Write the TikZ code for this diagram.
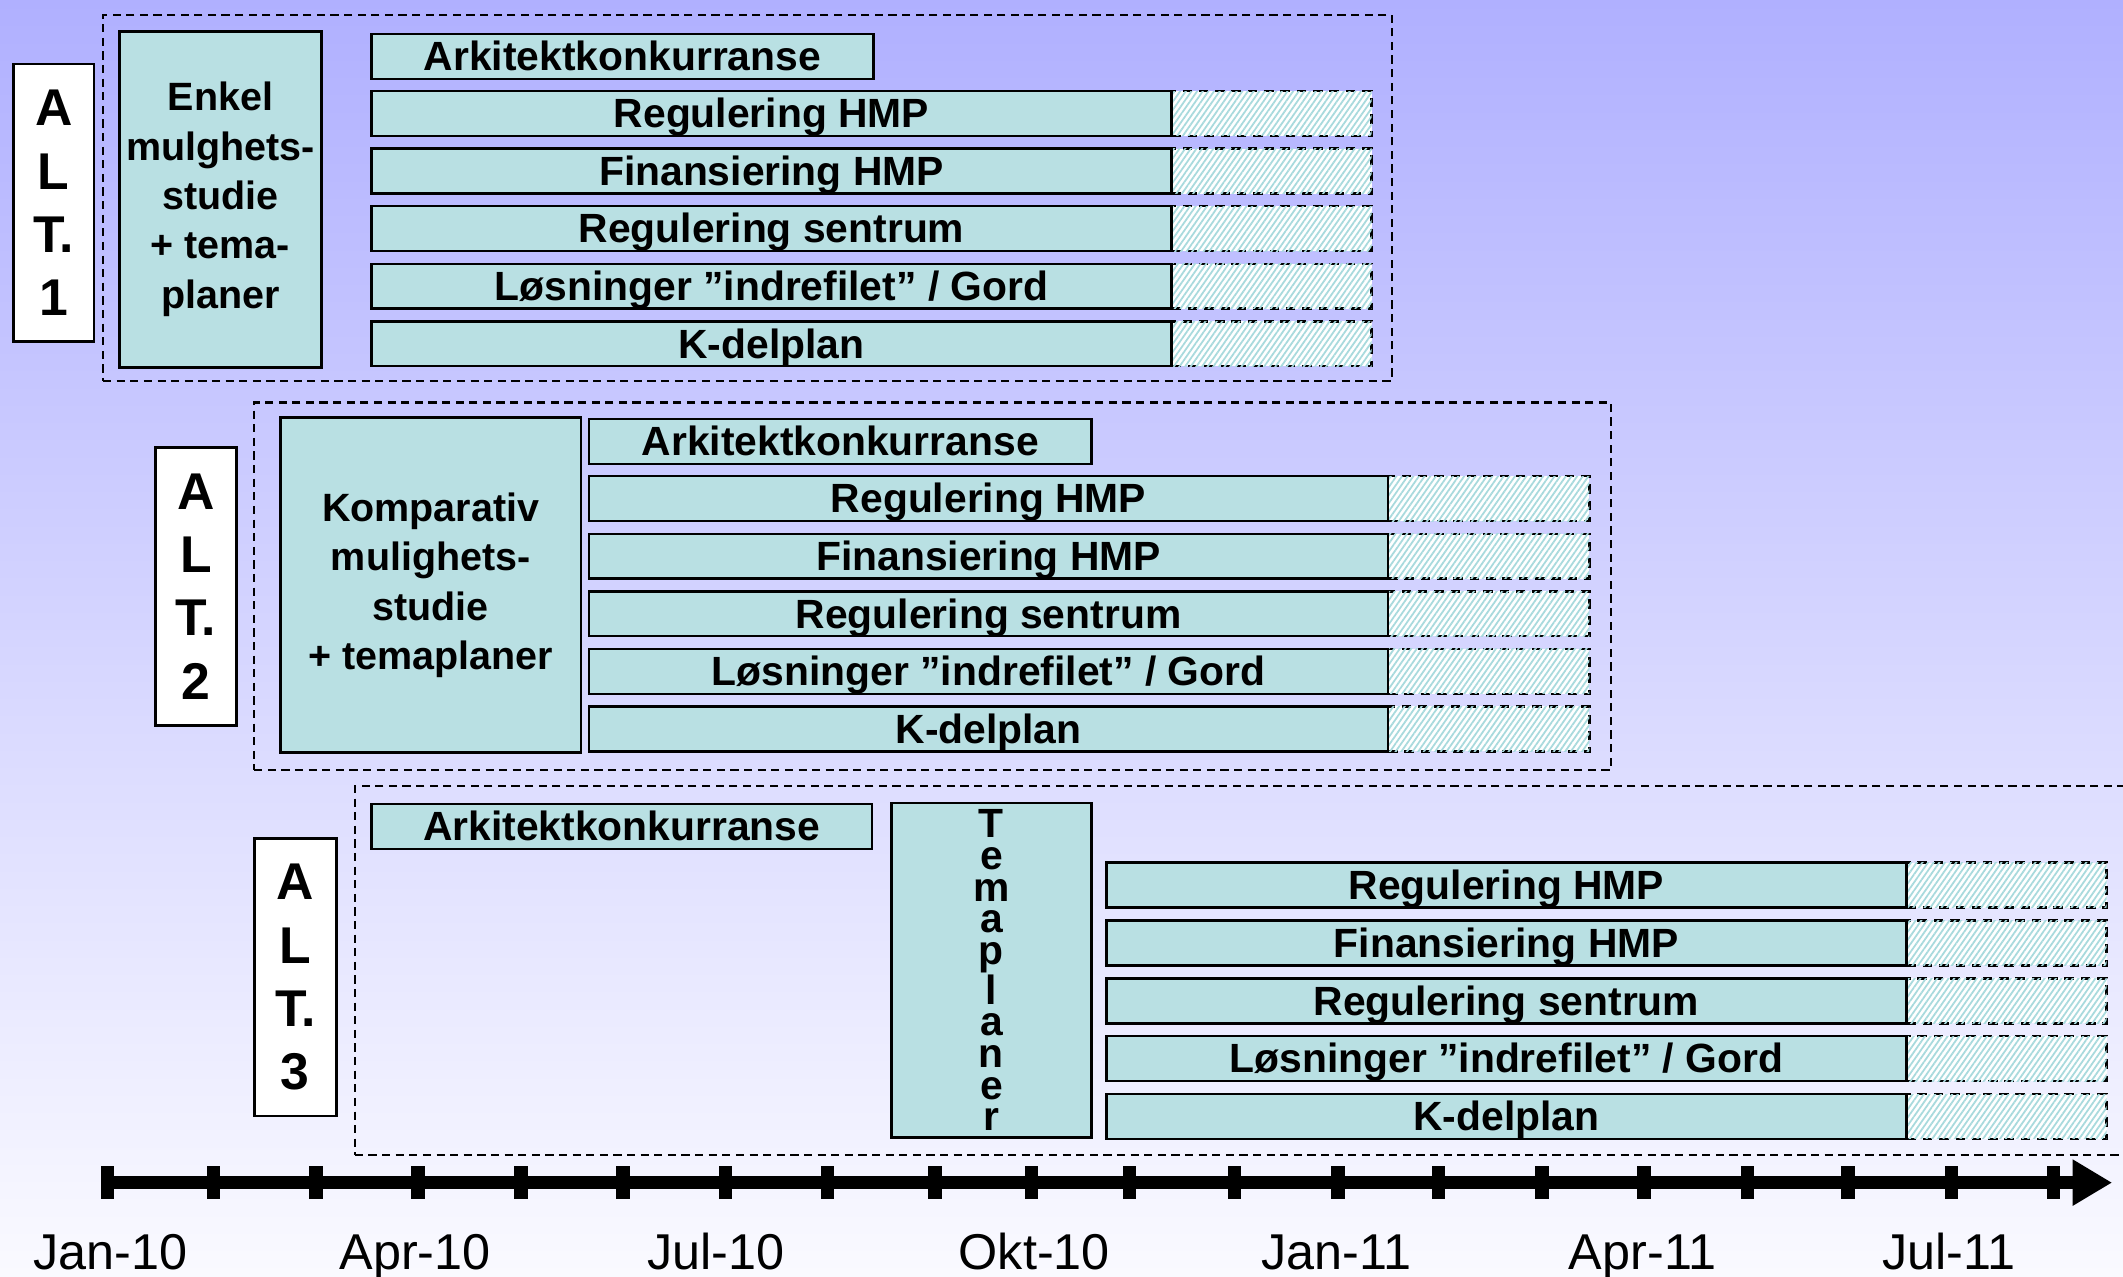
\documentclass[tikz,border=0pt]{standalone}
\usepackage{fontspec}
\setmainfont{Liberation Sans}
\usetikzlibrary{patterns.meta,arrows.meta}
\definecolor{barfill}{RGB}{185,224,227}
\definecolor{hatchc}{RGB}{168,218,221}
\definecolor{bgtop}{RGB}{176,176,255}
\definecolor{bgbot}{RGB}{250,250,255}
\begin{document}
\begin{tikzpicture}[x=1pt,y=-1pt,
  bar/.style={draw=black,line width=1.8pt,fill=barfill,minimum height=33pt,inner sep=0pt,
    anchor=north west,font=\fontsize{30}{36}\selectfont\bfseries,text height=21pt,text depth=0pt},
  hatchbar/.style={draw=black,line width=1.8pt,dash pattern=on 7pt off 5pt,fill=white,
    minimum height=33pt,inner sep=0pt,anchor=north west,
    postaction={pattern={Lines[angle=55,distance=3.4pt,line width=1.3pt]},pattern color=hatchc}},
  grp/.style={draw=black,line width=1.5pt,dash pattern=on 6pt off 4pt,inner sep=0pt,anchor=north west},
  altbox/.style={draw=black,line width=2pt,fill=white,inner sep=0pt,anchor=north west,align=center,
    font=\fontsize{38}{46.4}\selectfont\bfseries},
  studybox/.style={draw=black,line width=2pt,fill=barfill,inner sep=0pt,anchor=north west,align=center,
    font=\fontsize{29}{36.3}\selectfont\bfseries},
  tick/.style={line width=10pt},
  datelabel/.style={anchor=base,font=\fontsize{37}{40}\selectfont,inner sep=0pt}
]
\clip (0,0) rectangle (1560,938);
\shade[top color=bgtop,bottom color=bgbot] (0,0) rectangle (1560,938);

% ---------- ALT 1 ----------
\node[grp,minimum width=947pt,minimum height=269pt] (g1) at (75,10) {};
\node[altbox,minimum width=59pt,minimum height=204pt] (alt1) at (9,46) {A\\L\\T.\\1};
\node[studybox,minimum width=148pt,minimum height=247pt] (s1) at (87,22) {Enkel\\mulghets-\\studie\\+ tema-\\planer};
\node[bar,minimum width=369pt] (k1) at (272,24) {Arkitektkonkurranse};
\foreach \i/\t in {0/Regulering HMP,1/Finansiering HMP,2/Regulering sentrum,3/{Løsninger ”indrefilet” / Gord},4/K-delplan}{
  \node[hatchbar,minimum width=147pt] (a1h\i) at (860,66+42.3*\i) {};
  \node[bar,minimum width=588pt] (a1r\i) at (272,66+42.3*\i) {\t};
}

% ---------- ALT 2 ----------
\node[grp,minimum width=997pt,minimum height=270pt] (g2) at (186,295) {};
\node[altbox,minimum width=60pt,minimum height=204pt] (alt2) at (113,328) {A\\L\\T.\\2};
\node[studybox,minimum width=221pt,minimum height=246pt] (s2) at (205,306) {Komparativ\\mulighets-\\studie\\+ temaplaner};
\node[bar,minimum width=369pt] (k2) at (432,307) {Arkitektkonkurranse};
\foreach \i/\t in {0/Regulering HMP,1/Finansiering HMP,2/Regulering sentrum,3/{Løsninger ”indrefilet” / Gord},4/K-delplan}{
  \node[hatchbar,minimum width=148pt] (a2h\i) at (1019,349+42.3*\i) {};
  \node[bar,minimum width=587pt] (a2r\i) at (432,349+42.3*\i) {\t};
}

% ---------- ALT 3 ----------
\node[grp,minimum width=1330pt,minimum height=271pt] (g3) at (260,577) {};
\node[altbox,minimum width=60pt,minimum height=204pt] (alt3) at (186,615) {A\\L\\T.\\3};
\node[bar,minimum width=368pt] (k3) at (272,590) {Arkitektkonkurranse};
\node[studybox,minimum width=147pt,minimum height=246pt,font=\fontsize{30}{23.3}\selectfont\bfseries] (tp) at (654,589) {T\\e\\m\\a\\p\\l\\a\\n\\e\\r};
\foreach \i/\t in {0/Regulering HMP,1/Finansiering HMP,2/Regulering sentrum,3/{Løsninger ”indrefilet” / Gord},4/K-delplan}{
  \node[hatchbar,minimum width=147pt] (a3h\i) at (1400,633+42.5*\i) {};
  \node[bar,minimum width=588pt] (a3r\i) at (812,633+42.5*\i) {\t};
}

% ---------- Timeline ----------
\coordinate (tl0) at (75,869);
\coordinate (tl1) at (1552,869);
\draw[line width=10pt,-{Triangle[length=29pt,width=32pt]}] (tl0) -- (tl1);
\foreach \x [count=\n] in {79,157,232,307,383,458,533,608,687,758,830,907,983,1057,1133,1208,1284,1358,1434,1509}{
  \coordinate (tka\n) at (\x,857);
  \coordinate (tkb\n) at (\x,881);
  \draw[tick] (tka\n) -- (tkb\n);
}
\node[datelabel] (d1) at (81,933) {Jan-10};
\node[datelabel] (d2) at (305,933) {Apr-10};
\node[datelabel] (d3) at (526,933) {Jul-10};
\node[datelabel] (d4) at (760,933) {Okt-10};
\node[datelabel] (d5) at (982,933) {Jan-11};
\node[datelabel] (d6) at (1207,933) {Apr-11};
\node[datelabel] (d7) at (1432,933) {Jul-11};
\end{tikzpicture}
\end{document}
